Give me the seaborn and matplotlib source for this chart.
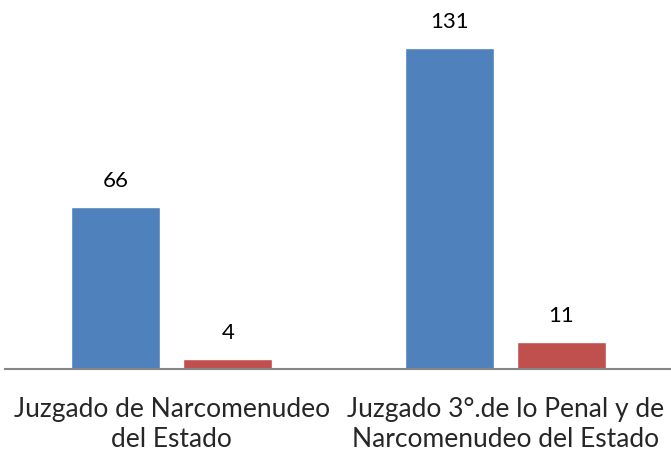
import matplotlib

matplotlib.use("Agg")
import matplotlib.pyplot as plt
import pandas as pd
import seaborn as sns

categories = ["Juzgado de Narcomenudeo\ndel Estado", "Juzgado 3°.de lo Penal y de\nNarcomenudeo del Estado"]
series_names = ["Serie 1", "Serie 2"]
serie_1 = [66, 131]
serie_2 = [4, 11]

PALETTE = {"Serie 1": "#4F81BD", "Serie 2": "#C0504D"}

df = pd.DataFrame({
    "categoria": categories * 2,
    "serie": [series_names[0]] * 2 + [series_names[1]] * 2,
    "valor": serie_1 + serie_2,
})

sns.set_style("white")
plt.rcParams["font.family"] = ["Lato", "DejaVu Sans"]

fig = plt.figure(figsize=(6.71, 4.57), dpi=100)
ax = fig.add_axes([5 / 671, 88 / 457, 667 / 671, 343 / 457])
sns.barplot(data=df, x="categoria", y="valor", hue="serie", palette=PALETTE,
            width=0.672, gap=0.205, saturation=1, legend=False, ax=ax)

# value labels above each bar
for container in ax.containers:
    for bar in container:
        h = bar.get_height()
        ax.annotate(f"{h:.0f}", (bar.get_x() + bar.get_width() / 2, h),
                    xytext=(0, 19), textcoords="offset points",
                    ha="center", va="center", fontsize=16, color="#000000",
                    annotation_clip=False)

ax.set_xlim(-0.5, 1.5)
ax.set_ylim(0, 140)
ax.set_xlabel("")
ax.set_ylabel("")
ax.set_yticks([])
ax.tick_params(axis="x", length=0, pad=20, labelsize=19)
for lbl in ax.get_xticklabels():
    lbl.set_linespacing(1.28)
for side in ["top", "right", "left"]:
    ax.spines[side].set_visible(False)
ax.spines["bottom"].set_color("#868686")
ax.spines["bottom"].set_linewidth(1.5)

fig.savefig("out.png", dpi=100)
